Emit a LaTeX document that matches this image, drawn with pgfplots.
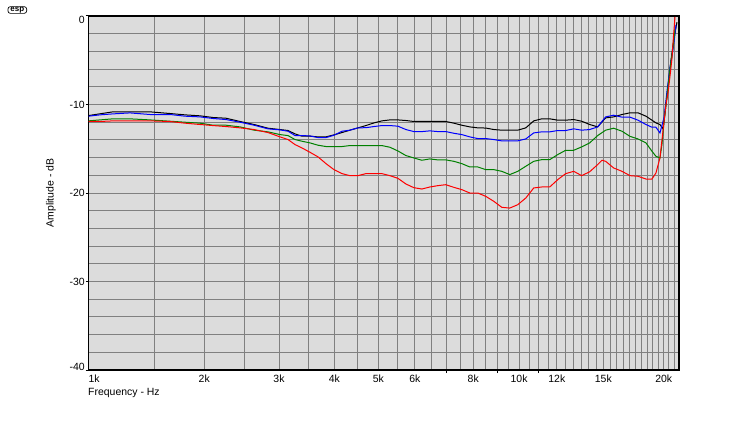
\documentclass[border=0pt]{standalone}
\usepackage{fontspec}
\setmainfont{Liberation Sans}
\usepackage{pgfplots}
\pgfplotsset{compat=1.18}

\definecolor{bggray}{RGB}{220,220,220}
\definecolor{gridgray}{RGB}{128,128,128}
\definecolor{espgreen}{RGB}{0,128,0}

\begin{document}
\begin{tikzpicture}[x=1bp,y=1bp]
\useasboundingbox (0,0) rectangle (740,420);
% logo
\node[draw, line width=0.7bp, rounded corners=2.5bp, inner xsep=2.5bp, inner ysep=0.4bp,
      font=\fontsize{8}{8}\selectfont\bfseries] at (17.3,410) {esp};

\begin{axis}[
  at={(88.5bp,50bp)}, anchor=south west,
  width=590.5bp, height=354bp, scale only axis,
  x coord trafo/.code={\pgfmathparse{log10(#1+0.4)}},
  x coord inv trafo/.code={\pgfmathparse{10^(#1)-0.4}},
  xmin=1, xmax=21.5, ymin=-40, ymax=0,
  axis background/.style={fill=bggray},
  axis line style={black, line width=1.5bp},
  xtick={1,2,3,4,5,6,8,10,12,15,20},
  xticklabels={\makebox[0pt][l]{1k},2k,3k,4k,5k,6k,8k,10k,12k,15k,20k},
  minor xtick={1.5,2.5,3.5,4.5,5.5,6.5,7,7.5,8.5,9,9.5,10.5,11,11.5,12.5,13,13.5,14,14.5,15.5,16,16.5,17,17.5,18,18.5,19,19.5,20.5,21},
  extra x ticks={7,9,11}, extra x tick labels={},
  extra x tick style={grid=none, xtick style={draw=black, line width=1bp}},
  ytick={-40,-30,-20,-10,0},
  yticklabels={\raisebox{3bp}[\height][\depth]{-40},-30,-20,-10,\raisebox{-3.5bp}[\height][\depth]{0}},
  minor ytick={-38,-36,-34,-32,-28,-26,-24,-22,-18,-16,-14,-12,-8,-6,-4,-2},
  xmajorgrids, xminorgrids, ymajorgrids, yminorgrids,
  major grid style={gridgray, line width=1bp},
  minor grid style={gridgray, line width=1bp},
  tick align=outside, tick pos=left,
  major tick length=3bp, minor tick length=0pt,
  xtick style={draw=none},
  ytick style={black, line width=1bp},
  tick label style={font=\fontsize{10.5}{12}\selectfont, inner sep=0pt},
  xticklabel style={yshift=-2bp},
  yticklabel style={xshift=-0.5bp},
  label style={font=\fontsize{10.5}{12}\selectfont, inner sep=0pt},
  xlabel={Frequency - Hz},
  xlabel style={at={(axis description cs:0,0)}, anchor=base west, yshift=-25.5bp, xshift=-0.5bp},
  ylabel={Amplitude - dB},
  ylabel style={at={(axis description cs:0,0.5)}, anchor=center, yshift=37.5bp},
  clip=true,
]
\addplot[black, line width=1bp] coordinates {
(1.000,-11.25) (1.077,-11.05) (1.169,-10.83) (1.298,-10.83) (1.464,-10.83)
(1.647,-11.02) (1.794,-11.17) (1.953,-11.28) (2.100,-11.47) (2.256,-11.55)
(2.435,-11.92) (2.627,-12.26) (2.830,-12.68) (3.016,-12.83) (3.145,-12.94)
(3.263,-13.32) (3.384,-13.58) (3.528,-13.58) (3.677,-13.66) (3.831,-13.66)
(3.992,-13.43) (4.158,-13.17) (4.331,-12.90) (4.510,-12.64) (4.696,-12.38)
(4.890,-12.08) (5.090,-11.85) (5.298,-11.74) (5.514,-11.74) (5.739,-11.81)
(5.971,-11.92) (6.213,-11.92) (6.464,-11.92) (6.724,-11.92) (6.994,-11.92)
(7.275,-12.11) (7.565,-12.34) (7.867,-12.53) (8.181,-12.64) (8.506,-12.66)
(8.844,-12.83) (9.194,-12.90) (9.558,-12.90) (9.936,-12.90) (10.328,-12.64)
(10.734,-11.85) (11.156,-11.62) (11.595,-11.62) (12.049,-11.77) (12.521,-11.77)
(13.011,-11.70) (13.520,-11.89) (14.047,-12.26) (14.595,-12.53) (15.164,-11.51)
(15.754,-11.40) (16.393,-11.13) (17.030,-10.94) (17.691,-10.94) (18.377,-11.32)
(18.909,-11.77) (19.272,-12.08) (19.641,-12.26) (19.924,-12.75) (20.116,-11.0)
(20.405,-8.0) (20.698,-5.0) (20.996,-2.5) (21.296,-0.7)
};
\addplot[blue, line width=1bp] coordinates {
(1.000,-11.32) (1.077,-11.17) (1.169,-11.06) (1.298,-10.95) (1.464,-11.13)
(1.647,-11.13) (1.794,-11.32) (1.953,-11.40) (2.100,-11.58) (2.256,-11.70)
(2.435,-12.00) (2.627,-12.34) (2.830,-12.75) (3.016,-12.87) (3.145,-13.02)
(3.263,-13.51) (3.384,-13.51) (3.528,-13.55) (3.677,-13.74) (3.831,-13.74)
(3.992,-13.47) (4.158,-13.02) (4.331,-12.90) (4.510,-12.64) (4.696,-12.62)
(4.890,-12.49) (5.090,-12.38) (5.298,-12.38) (5.514,-12.45) (5.739,-12.83)
(5.971,-13.06) (6.213,-13.06) (6.464,-12.98) (6.724,-13.06) (6.994,-13.06)
(7.275,-13.25) (7.565,-13.40) (7.867,-13.66) (8.181,-13.85) (8.506,-13.85)
(8.844,-13.96) (9.194,-14.11) (9.558,-14.11) (9.936,-14.11) (10.328,-13.89)
(10.734,-13.21) (11.156,-13.09) (11.595,-13.09) (12.049,-12.94) (12.521,-12.94)
(13.011,-12.75) (13.520,-12.90) (14.047,-12.83) (14.595,-12.53) (15.164,-11.40)
(15.754,-11.21) (16.393,-11.43) (17.030,-11.43) (17.691,-11.77) (18.377,-12.26)
(18.909,-12.57) (19.272,-12.57) (19.641,-13.21) (20.020,-11.5) (20.309,-8.5)
(20.600,-5.8) (20.896,-3.8) (21.096,-2.0) (21.196,-1.0)
};
\addplot[espgreen, line width=1bp] coordinates {
(1.000,-11.85) (1.077,-11.74) (1.169,-11.62) (1.298,-11.62) (1.464,-11.74)
(1.647,-11.89) (1.794,-12.00) (1.953,-12.11) (2.100,-12.34) (2.256,-12.34)
(2.435,-12.53) (2.627,-12.90) (2.830,-13.09) (3.016,-13.40) (3.145,-13.51)
(3.263,-13.96) (3.384,-14.15) (3.528,-14.34) (3.677,-14.60) (3.831,-14.75)
(3.992,-14.75) (4.158,-14.75) (4.331,-14.64) (4.510,-14.64) (4.696,-14.64)
(4.890,-14.64) (5.090,-14.64) (5.298,-14.83) (5.514,-15.25) (5.739,-15.77)
(5.971,-16.04) (6.213,-16.30) (6.464,-16.15) (6.724,-16.26) (6.994,-16.26)
(7.275,-16.42) (7.565,-16.68) (7.867,-17.06) (8.181,-17.06) (8.506,-17.36)
(8.844,-17.36) (9.194,-17.55) (9.558,-17.92) (9.936,-17.55) (10.328,-16.98)
(10.734,-16.42) (11.156,-16.23) (11.595,-16.23) (12.049,-15.66) (12.521,-15.17)
(13.011,-15.17) (13.520,-14.79) (14.047,-14.34) (14.595,-13.51) (15.164,-12.90)
(15.754,-12.68) (16.393,-13.02) (17.030,-13.60) (17.691,-13.89) (18.377,-14.34)
(18.909,-15.28) (19.272,-15.85) (19.641,-16.04) (19.830,-14.5) (20.020,-12.0)
(20.309,-9.0) (20.600,-6.0) (20.896,-3.5) (21.096,-1.5)
};
\addplot[red, line width=1bp] coordinates {
(1.000,-11.92) (1.077,-11.92) (1.169,-11.85) (1.298,-11.85) (1.464,-11.85)
(1.647,-11.92) (1.794,-12.11) (1.953,-12.26) (2.100,-12.38) (2.256,-12.49)
(2.435,-12.64) (2.627,-12.83) (2.830,-13.17) (3.016,-13.66) (3.145,-13.96)
(3.263,-14.53) (3.384,-14.91) (3.528,-15.40) (3.677,-15.92) (3.831,-16.68)
(3.992,-17.36) (4.158,-17.81) (4.331,-18.04) (4.510,-18.04) (4.696,-17.81)
(4.890,-17.81) (5.090,-17.81) (5.298,-18.04) (5.514,-18.34) (5.739,-18.98)
(5.971,-19.40) (6.213,-19.55) (6.464,-19.32) (6.724,-19.17) (6.994,-19.06)
(7.275,-19.36) (7.565,-19.62) (7.867,-20.00) (8.181,-20.00) (8.506,-20.38)
(8.844,-20.94) (9.194,-21.62) (9.558,-21.70) (9.936,-21.32) (10.328,-20.57)
(10.734,-19.43) (11.156,-19.32) (11.595,-19.32) (12.049,-18.49) (12.521,-17.81)
(13.011,-17.55) (13.520,-18.04) (14.047,-17.60) (14.595,-16.79) (14.900,-16.30)
(15.164,-16.42) (15.754,-17.17) (16.393,-17.55) (17.030,-18.04) (17.691,-18.11)
(18.377,-18.42) (18.909,-18.42) (19.272,-17.74) (19.641,-16.04) (19.924,-13.0)
(20.212,-10.0) (20.405,-8.7) (20.600,-6.8) (20.796,-4.8) (20.930,-2.5)
(21.096,-0.1)
};
\end{axis}
\end{tikzpicture}
\end{document}
